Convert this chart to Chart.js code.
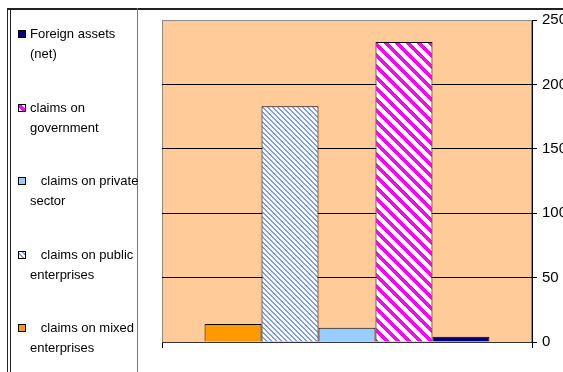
<!DOCTYPE html>
<html>
<head>
<meta charset="utf-8">
<script src="https://cdn.jsdelivr.net/npm/chart.js@4"></script>
<style>
  body { margin: 0; background: #fff; }
</style>
</head>
<body>
<canvas id="chart" width="563" height="372"></canvas>
<script>
// One group of bars, drawn left to right in this order
const category = [''];
const seriesLines = [
  ['   claims on mixed', 'enterprises'],
  ['   claims on public', 'enterprises'],
  ['   claims on private', 'sector'],
  ['claims on', 'government'],
  ['Foreign assets', '(net)'],
];
const seriesValues = [14, 183, 11, 233, 4];
const yTicks = { min: 0, max: 250, step: 50 };

const FONT = '"Liberation Sans", Arial, sans-serif';

// diagonal "\" stripes on white, built pixel by pixel so they stay crisp
function stripes(color, period, width) {
  const c = document.createElement('canvas');
  c.width = c.height = period;
  const g = c.getContext('2d');
  g.fillStyle = '#fff';
  g.fillRect(0, 0, period, period);
  g.fillStyle = color;
  for (let y = 0; y < period; y++) {
    for (let x = 0; x < period; x++) {
      if ((((x - y) % period) + period) % period < width) g.fillRect(x, y, 1, 1);
    }
  }
  return g.createPattern(c, 'repeat');
}

const fills = [
  '#FF9900',
  stripes('#7a9cff', 5, 2),
  '#99CCFF',
  stripes('#FF00FF', 11, 5),
  '#000080',
];

const frame = {
  id: 'frame',
  beforeDraw(chart) {
    const { ctx, chartArea: a } = chart;
    ctx.save();
    ctx.fillStyle = '#fff';
    ctx.fillRect(0, 0, chart.width, chart.height);
    ctx.fillStyle = '#FFCC99';
    ctx.fillRect(a.left, a.top, a.right - a.left, a.bottom - a.top);
    ctx.strokeStyle = '#8a8a8a';
    ctx.lineWidth = 1;
    ctx.strokeRect(a.left + 0.5, a.top + 0.5, a.right - a.left - 1, a.bottom - a.top);
    ctx.restore();
  },
  afterDraw(chart) {
    const ctx = chart.ctx;
    ctx.save();
    // outer border lines and the legend box edge
    ctx.fillStyle = '#222';
    ctx.fillRect(7, 8, 556, 2);
    ctx.fillRect(7, 8, 1, 364);
    ctx.fillRect(10, 8, 1, 364);
    ctx.fillStyle = '#777';
    ctx.fillRect(137, 8, 1, 364);

    // legend, listed in reverse of the bar order
    ctx.font = '13px ' + FONT;
    ctx.textBaseline = 'alphabetic';
    const ds = chart.data.datasets;
    for (let i = 0; i < ds.length; i++) {
      const d = ds[ds.length - 1 - i];
      const base = Math.round(38 + i * 73.5);
      ctx.fillStyle = d.backgroundColor;
      ctx.fillRect(19, base - 7, 6, 6);
      ctx.strokeStyle = '#000';
      ctx.strokeRect(18.5, base - 7.5, 7, 7);
      ctx.fillStyle = '#000';
      d.lines.forEach((t, k) => ctx.fillText(t, 30, base + k * 20));
    }
    ctx.restore();
  }
};

new Chart(document.getElementById('chart'), {
  type: 'bar',
  data: {
    labels: category,
    datasets: seriesLines.map((lines, i) => ({
      label: lines.join(' ').trim(),
      lines: lines,
      data: [seriesValues[i]],
      backgroundColor: fills[i],
      borderColor: '#000',
      borderWidth: 1,
      categoryPercentage: 0.77,
      barPercentage: 1,
    })),
  },
  options: {
    responsive: false,
    animation: false,
    devicePixelRatio: 1,
    layout: { padding: { left: 162, top: 20, right: 0, bottom: 0 } },
    plugins: { legend: { display: false }, tooltip: { enabled: false } },
    scales: {
      x: {
        ticks: { display: false },
        grid: { offset: true, drawOnChartArea: false, tickLength: 6, color: '#000' },
        border: { color: '#333' },
        afterFit: (s) => { s.height = 30; },
      },
      y: {
        position: 'right',
        min: yTicks.min,
        max: yTicks.max,
        ticks: {
          stepSize: yTicks.step,
          padding: 5,
          color: '#000',
          font: { family: FONT, size: 15 },
        },
        grid: {
          color: (c) => (c.tick && c.tick.value === yTicks.max ? '#8a8a8a' : '#000'),
          tickColor: '#000',
          tickLength: 5,
        },
        border: { color: '#000' },
        afterFit: (s) => { s.width = 31; },
      },
    },
  },
  plugins: [frame],
});
</script>
</body>
</html>
